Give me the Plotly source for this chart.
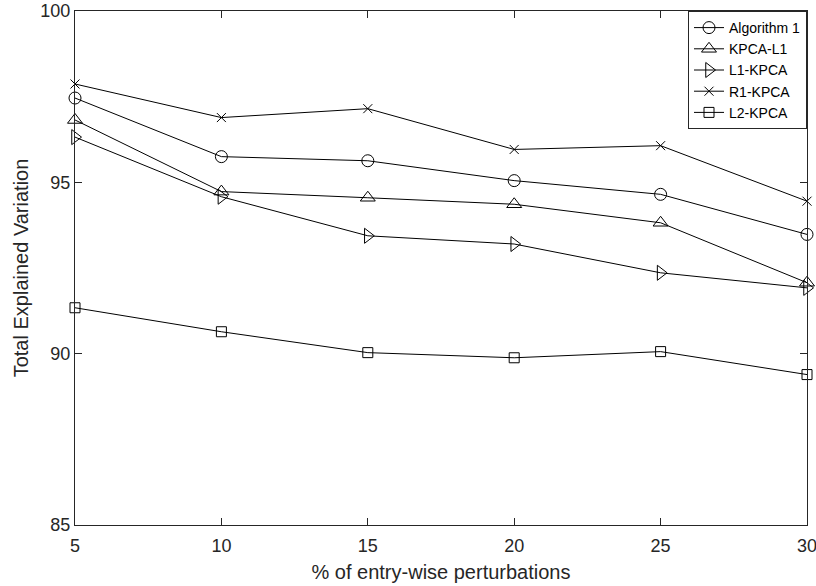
import plotly.graph_objects as go

x = [5, 10, 15, 20, 25, 30]
alg1 = [97.46, 95.75, 95.63, 95.05, 94.65, 93.48]
kpca_l1 = [96.82, 94.73, 94.55, 94.36, 93.82, 92.07]
l1_kpca = [96.32, 94.58, 93.44, 93.2, 92.36, 91.92]
r1_kpca = [97.87, 96.89, 97.15, 95.96, 96.07, 94.45]
l2_kpca = [91.34, 90.64, 90.03, 89.88, 90.06, 89.39]

names = ["Algorithm 1", "KPCA-L1", "L1-KPCA", "R1-KPCA", "L2-KPCA"]
series = [alg1, kpca_l1, l1_kpca, r1_kpca, l2_kpca]
symbols = ["circle-open", "triangle-up-open", "triangle-right-open", "x-thin-open", "square-open"]
sizes = [12, 13, 13, 9, 10]

FONT = "Liberation Sans, Arial, sans-serif"

fig = go.Figure()
for n, s, sym, sz in zip(names, series, symbols, sizes):
    fig.add_trace(go.Scatter(
        x=x, y=s, name=n, mode="lines+markers",
        line=dict(color="black", width=1),
        marker=dict(symbol=sym, size=sz, color="black", line=dict(color="black", width=1)),
        cliponaxis=False,
    ))

axis_common = dict(
    showline=True, linecolor="#262626", linewidth=1, mirror="ticks",
    ticks="inside", ticklen=7, tickcolor="#262626", tickwidth=1,
    showgrid=False, zeroline=False, automargin=False,
    ticklabeloverflow="allow",
    tickfont=dict(family=FONT, size=18, color="#262626"),
    title_font=dict(family=FONT, size=20, color="#262626"),
)

fig.update_layout(
    width=816, height=586,
    margin=dict(l=75, r=9, t=11, b=61),
    plot_bgcolor="white", paper_bgcolor="white",
    xaxis=dict(range=[5, 30], tickvals=[5, 10, 15, 20, 25, 30], ticklabelstandoff=4,
               title=dict(text="% of entry-wise perturbations", standoff=10), **axis_common),
    yaxis=dict(range=[85, 100], tickvals=[85, 90, 95, 100],
               title=dict(text="Total Explained Variation", standoff=6), **axis_common),
    legend=dict(x=1, y=1, xanchor="right", yanchor="top",
                bgcolor="white", bordercolor="#262626", borderwidth=1,
                font=dict(family=FONT, size=14, color="black"),
                tracegroupgap=0, itemwidth=30),
    showlegend=True,
)

fig.write_html("out.html")
